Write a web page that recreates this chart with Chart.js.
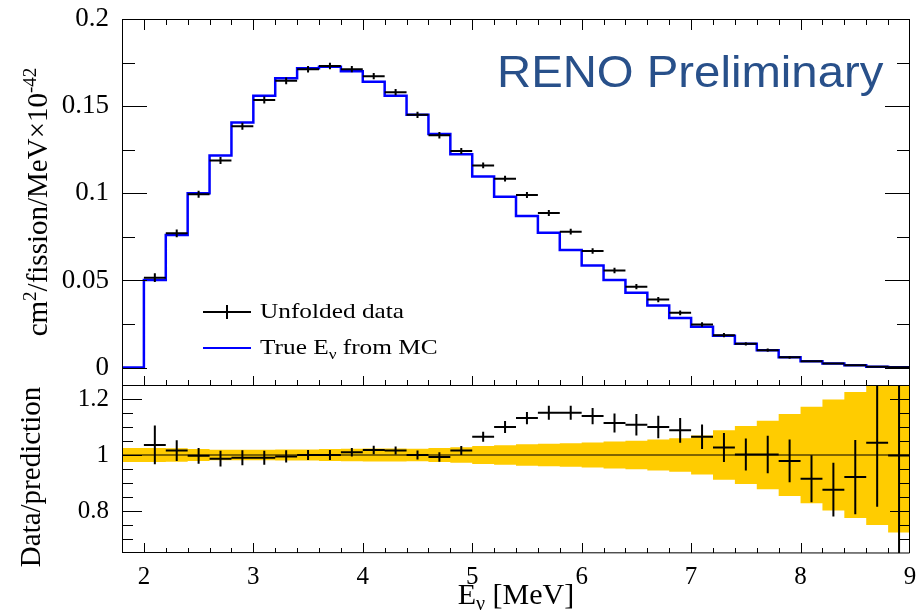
<!DOCTYPE html>
<html>
<head>
<meta charset="utf-8">
<script src="https://cdn.jsdelivr.net/npm/chart.js@4.4.0/dist/chart.umd.min.js"></script>
<style>
  html, body { margin: 0; padding: 0; background: #fff; }
  #wrap { position: relative; width: 920px; height: 613px; overflow: hidden; }
  #topBox { position: absolute; left: 0; top: 0; width: 920px; height: 386px; }
  #ratioBox { position: absolute; left: 0; top: 380px; width: 920px; height: 233px; }
</style>
</head>
<body>
<div id="wrap">
  <div id="topBox"><canvas id="SpectrumChart"></canvas></div>
  <div id="ratioBox"><canvas id="RatioChart"></canvas></div>
</div>
<script>
// bin edges in MeV (0.2 MeV bins), first bin 1.8-2.0 is empty
const binEdges = [1.8, 2.0, 2.2, 2.4, 2.6, 2.8, 3.0, 3.2, 3.4, 3.6, 3.8, 4.0, 4.2, 4.4, 4.6, 4.8,
    5.0, 5.2, 5.4, 5.6, 5.8, 6.0, 6.2, 6.4, 6.6, 6.8, 7.0, 7.2, 7.4, 7.6, 7.8, 8.0, 8.2, 8.4, 8.6, 8.8, 9.0];
const binCenters = [2.1, 2.3, 2.5, 2.7, 2.9, 3.1, 3.3, 3.5, 3.7, 3.9, 4.1, 4.3, 4.5, 4.7, 4.9,
    5.1, 5.3, 5.5, 5.7, 5.9, 6.1, 6.3, 6.5, 6.7, 6.9, 7.1, 7.3, 7.5, 7.7, 7.9, 8.1, 8.3, 8.5, 8.7, 8.9];

// True E_nu from MC, one value per bin (starting at 1.8)
const mcTrue = [0, 0.0502, 0.0760, 0.1000, 0.1217, 0.1406, 0.1560, 0.1660, 0.1718, 0.1726, 0.1700,
    0.1640, 0.1560, 0.1450, 0.1340, 0.1224, 0.1096, 0.0980, 0.0870, 0.0774, 0.0674,
    0.0586, 0.0502, 0.0429, 0.0356, 0.0285, 0.0234, 0.0182, 0.0136, 0.0100, 0.0059,
    0.0036, 0.0023, 0.0013, 0.0005, 0.0002];

// unfolded data at bin centers
const unfolded = [0.0516, 0.0770, 0.0994, 0.1188, 0.1385, 0.1535, 0.1645, 0.1712, 0.1730, 0.1712,
    0.1672, 0.1580, 0.1450, 0.1333, 0.1243, 0.1160, 0.1084, 0.0990, 0.0887, 0.0780,
    0.0669, 0.0557, 0.0464, 0.0390, 0.0314, 0.0247, 0.0186, 0.0136, 0.0100, 0.0059,
    0.0036, 0.0023, 0.0013, 0.0005, 0.0002];
const unfoldedErr = [0.0025, 0.0022, 0.0020, 0.0020, 0.0020, 0.0020, 0.0020, 0.0019, 0.0019, 0.0018,
    0.0018, 0.0018, 0.0018, 0.0018, 0.0017, 0.0017, 0.0017, 0.0017, 0.0017, 0.0016,
    0.0016, 0.0016, 0.0015, 0.0015, 0.0014, 0.0013, 0.0012, 0.0010, 0.0009, 0.0008,
    0.0006, 0.0005, 0.0004, 0.0003, 0.0002];

// data / prediction
const ratio = [1.036, 1.016, 0.997, 0.987, 0.990, 0.990, 0.995, 1.000, 1.000, 1.010,
    1.018, 1.016, 1.000, 0.993, 1.016, 1.065, 1.100, 1.132, 1.151, 1.151,
    1.139, 1.114, 1.108, 1.100, 1.088, 1.065, 1.027, 1.002, 1.002, 0.979,
    0.915, 0.876, 0.921, 1.044, 0.998];
const ratioErr = [0.069, 0.037, 0.028, 0.028, 0.027, 0.025, 0.022, 0.018, 0.018, 0.015,
    0.015, 0.014, 0.016, 0.017, 0.016, 0.018, 0.021, 0.022, 0.025, 0.025,
    0.029, 0.034, 0.038, 0.040, 0.044, 0.044, 0.052, 0.057, 0.067, 0.076,
    0.084, 0.096, 0.133, 0.229, 0.600];

// half width of the yellow uncertainty band, one per bin (starting at 1.8)
const bandHalf = [0.025, 0.025, 0.024, 0.021, 0.019, 0.019, 0.019, 0.020, 0.020, 0.021, 0.022,
    0.023, 0.023, 0.022, 0.025, 0.028, 0.032, 0.035, 0.038, 0.040, 0.042,
    0.045, 0.048, 0.051, 0.055, 0.060, 0.070, 0.088, 0.104, 0.122, 0.146,
    0.172, 0.198, 0.225, 0.250, 0.277];

const xTicks = [2, 3, 4, 5, 6, 7, 8, 9];
const topYTicks = [0, 0.05, 0.1, 0.15, 0.2];
const ratioYTicks = [0.8, 1, 1.2];

const SERIF = "'Liberation Serif', 'DejaVu Serif', serif";

function stepPoints(values) {
    const pts = values.map((v, i) => ({ x: binEdges[i], y: v }));
    pts.push({ x: binEdges[binEdges.length - 1], y: values[values.length - 1] });
    return pts;
}

function crossPoints(vals, errs) {
    const pts = [];
    binCenters.forEach((c, i) => {
        pts.push({ x: c - 0.1, y: vals[i] }, { x: c + 0.1, y: vals[i] }, { x: c, y: null });
        pts.push({ x: c, y: vals[i] - errs[i] }, { x: c, y: vals[i] + errs[i] }, { x: c, y: null });
    });
    return pts;
}

function steps(from, to, step) {
    const out = [];
    const n = Math.round((to - from) / step);
    for (let k = 0; k <= n; k++) out.push(from + k * step);
    return out;
}

// no extra label padding, the layout is fixed by hand
function fixedBox(s, w, h) {
    if (w) s.width = w;
    if (h) s.height = h;
    s.paddingTop = 0;
    s.paddingBottom = 0;
    s.paddingLeft = 0;
    s.paddingRight = 0;
}

// ROOT style frame with inward ticks
function drawFrame(chart, t) {
    const { ctx, chartArea: a } = chart;
    const xs = chart.scales.x, ys = chart.scales.y;
    ctx.save();
    ctx.strokeStyle = "#000";
    ctx.lineWidth = 1;
    ctx.beginPath();
    ctx.moveTo(a.left + 0.5, a.bottom);
    ctx.lineTo(a.left + 0.5, a.top + 0.5);
    ctx.lineTo(a.right - 0.5, a.top + 0.5);
    ctx.lineTo(a.right - 0.5, a.bottom);
    if (t.bottomLine) ctx.lineTo(a.left + 0.5, a.bottom - 0.5);
    ctx.stroke();

    ctx.beginPath();
    const yTick = (v, len) => {
        const p = Math.round(ys.getPixelForValue(v)) + 0.5;
        if (p < a.top || p > a.bottom) return;
        ctx.moveTo(a.left, p); ctx.lineTo(a.left + len, p);
        ctx.moveTo(a.right, p); ctx.lineTo(a.right - len, p);
    };
    t.yMinor.forEach(v => yTick(v, t.yMinorLen));
    t.yMajor.forEach(v => yTick(v, t.yMajorLen));
    const xTick = (v, top, bottom) => {
        const p = Math.round(xs.getPixelForValue(v)) + 0.5;
        if (p < a.left || p > a.right) return;
        if (top) { ctx.moveTo(p, a.top); ctx.lineTo(p, a.top + top); }
        if (bottom) { ctx.moveTo(p, a.bottom); ctx.lineTo(p, a.bottom - bottom); }
    };
    t.xMinor.forEach(v => xTick(v, t.xTopMinor, t.xBotMinor));
    t.xMajor.forEach(v => xTick(v, t.xTopMajor, t.xBotMajor));
    ctx.stroke();
    ctx.restore();
}

function stretchedText(ctx, parts, x, y, sx) {
    // parts: [text, size, dy]
    ctx.save();
    ctx.translate(x, y);
    ctx.scale(sx, 1);
    let cx = 0;
    parts.forEach(([txt, size, dy]) => {
        ctx.font = size + "px " + SERIF;
        ctx.fillText(txt, cx, dy);
        cx += ctx.measureText(txt).width;
    });
    ctx.restore();
}

function rotatedText(ctx, parts, cx, cy) {
    ctx.save();
    ctx.translate(cx, cy);
    ctx.rotate(-Math.PI / 2);
    let w = 0;
    parts.forEach(([txt, size]) => { ctx.font = size + "px " + SERIF; w += ctx.measureText(txt).width; });
    let x = -w / 2;
    parts.forEach(([txt, size, dy]) => {
        ctx.font = size + "px " + SERIF;
        ctx.fillText(txt, x, dy);
        x += ctx.measureText(txt).width;
    });
    ctx.restore();
}

const spectrumDecor = {
    id: "spectrumDecor",
    afterDatasetsDraw(chart) {
        const ctx = chart.ctx;
        drawFrame(chart, {
            bottomLine: false,
            yMajor: topYTicks, yMinor: steps(0, 0.2, 0.025), yMajorLen: 25, yMinorLen: 13,
            xMajor: xTicks, xMinor: steps(1.8, 9, 0.2),
            xTopMajor: 11, xTopMinor: 6, xBotMajor: 9, xBotMinor: 5
        });
        ctx.save();
        ctx.fillStyle = "#000";
        ctx.textBaseline = "alphabetic";
        // legend
        ctx.strokeStyle = "#000";
        ctx.lineWidth = 2;
        ctx.beginPath();
        ctx.moveTo(203, 312); ctx.lineTo(251, 312);
        ctx.moveTo(227, 305); ctx.lineTo(227, 319);
        ctx.stroke();
        ctx.strokeStyle = "#0000ff";
        ctx.beginPath();
        ctx.moveTo(203, 348); ctx.lineTo(251, 348);
        ctx.stroke();
        stretchedText(ctx, [["Unfolded data", 22, 0]], 260, 318, 1.15);
        stretchedText(ctx, [["True E", 22, 0], ["\u03bd", 15, 5], [" from MC", 22, 0]], 260, 354, 1.15);
        // y title
        rotatedText(ctx, [["cm", 29, 0], ["2", 19, -11], ["/fission/MeV\u00d710", 29, 0], ["-42", 19, -11]], 47, 202);
        // RENO label
        ctx.fillStyle = "#28508a";
        ctx.font = "44px 'Liberation Sans', Arial, sans-serif";
        ctx.save();
        ctx.translate(497, 87);
        ctx.scale(1.075, 1);
        ctx.fillText("RENO Preliminary", 0, 0);
        ctx.restore();
        ctx.restore();
    }
};

const ratioDecor = {
    id: "ratioDecor",
    afterDatasetsDraw(chart) {
        const ctx = chart.ctx;
        drawFrame(chart, {
            bottomLine: true,
            yMajor: ratioYTicks, yMinor: steps(0.65, 1.25, 0.05), yMajorLen: 20, yMinorLen: 11,
            xMajor: xTicks, xMinor: steps(1.8, 9, 0.2),
            xTopMajor: 0, xTopMinor: 0, xBotMajor: 10, xBotMinor: 5
        });
        ctx.save();
        ctx.fillStyle = "#000";
        ctx.textBaseline = "alphabetic";
        rotatedText(ctx, [["Data/prediction", 29, 0]], 40, 97);
        const a = chart.chartArea;
        const parts = [["E", 30, 0], ["\u03bd", 20, 6], [" [MeV]", 30, 0]];
        let w = 0;
        parts.forEach(([txt, size]) => { ctx.font = size + "px " + SERIF; w += ctx.measureText(txt).width; });
        stretchedText(ctx, parts, (a.left + a.right) / 2 - w / 2, 224, 1);
        ctx.restore();
    }
};

const SpectrumChart = new Chart(document.getElementById("SpectrumChart"), {
    type: "line",
    data: {
        datasets: [{
            label: "Unfolded data",
            data: crossPoints(unfolded, unfoldedErr),
            borderColor: "#000",
            borderWidth: 2,
            pointRadius: 0,
            spanGaps: false,
            order: 0
        }, {
            label: "True E from MC",
            data: stepPoints(mcTrue),
            stepped: true,
            borderColor: "#0000ff",
            borderWidth: 2.5,
            pointRadius: 0,
            order: 1
        }]
    },
    options: {
        responsive: true,
        maintainAspectRatio: false,
        animation: false,
        layout: { padding: { top: 19, right: 10, bottom: 1, left: 0 } },
        plugins: { legend: { display: false }, tooltip: { enabled: false } },
        scales: {
            x: { type: "linear", min: 1.8, max: 9, display: false },
            y: {
                min: -0.01,
                max: 0.2,
                grid: { display: false },
                border: { display: false },
                afterBuildTicks: s => { s.ticks = topYTicks.map(v => ({ value: v })); },
                afterFit: s => fixedBox(s, 122, 0),
                ticks: {
                    color: "#000",
                    padding: 5,
                    font: { family: SERIF, size: 27 },
                    callback: v => String(v)
                }
            }
        }
    },
    plugins: [spectrumDecor]
});

const RatioChart = new Chart(document.getElementById("RatioChart"), {
    type: "line",
    data: {
        datasets: [{
            label: "Data/prediction",
            data: crossPoints(ratio, ratioErr),
            borderColor: "#000",
            borderWidth: 2,
            pointRadius: 0,
            spanGaps: false,
            clip: 0
        }, {
            label: "unity",
            data: [{ x: 1.8, y: 1 }, { x: 9, y: 1 }],
            borderColor: "#000",
            borderWidth: 1,
            pointRadius: 0
        }, {
            label: "band up",
            data: stepPoints(bandHalf.map(h => 1 + h)),
            stepped: true,
            borderColor: "rgba(0,0,0,0)",
            backgroundColor: "#ffcc00",
            borderWidth: 0,
            pointRadius: 0,
            fill: "+1",
            clip: 0
        }, {
            label: "band low",
            data: stepPoints(bandHalf.map(h => 1 - h)),
            stepped: true,
            borderColor: "rgba(0,0,0,0)",
            borderWidth: 0,
            pointRadius: 0,
            fill: false,
            clip: 0
        }]
    },
    options: {
        responsive: true,
        maintainAspectRatio: false,
        animation: false,
        layout: { padding: { top: 5, right: 10, bottom: 0, left: 0 } },
        plugins: { legend: { display: false }, tooltip: { enabled: false } },
        scales: {
            x: {
                type: "linear",
                min: 1.8,
                max: 9,
                grid: { display: false },
                border: { display: false },
                afterBuildTicks: s => { s.ticks = xTicks.map(v => ({ value: v })); },
                afterFit: s => fixedBox(s, 0, 60),
                ticks: {
                    color: "#000",
                    padding: 1,
                    maxRotation: 0,
                    autoSkip: false,
                    font: { family: SERIF, size: 25 },
                    callback: v => String(v)
                }
            },
            y: {
                min: 0.65,
                max: 1.25,
                grid: { display: false },
                border: { display: false },
                afterBuildTicks: s => { s.ticks = ratioYTicks.map(v => ({ value: v })); },
                afterFit: s => fixedBox(s, 122, 0),
                ticks: {
                    color: "#000",
                    padding: 5,
                    font: { family: SERIF, size: 25 },
                    callback: v => String(v)
                }
            }
        }
    },
    plugins: [ratioDecor]
});
</script>
</body>
</html>
